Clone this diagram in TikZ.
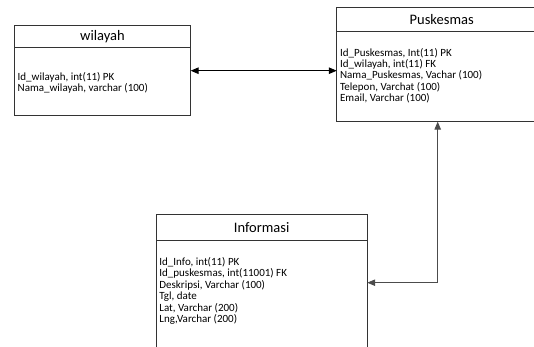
\documentclass[tikz,border=0pt]{standalone}
\usepackage{fontspec}
\setmainfont{Carlito}
\usetikzlibrary{arrows,positioning}

\begin{document}
\begin{tikzpicture}[x=1pt,y=-1pt,>=triangle 45,line width=0.8pt,
    tblhead/.style={draw=black!80,anchor=north west,inner sep=0pt,outer sep=0pt,
        font=\fontsize{14.5}{17}\selectfont},
    tblbody/.style={draw=black!80,inner sep=0pt,outer sep=0pt},
    attrs/.style={anchor=north west,inner sep=0pt,align=left,
        font=\fontsize{11}{11.4}\selectfont}]
  \useasboundingbox (0,0) rectangle (534,347);
  \clip (0,0) rectangle (534,347);
  \coordinate (W) at (14.3,25);
  \coordinate (P) at (336.7,7.3);
  \coordinate (I) at (156,214.3);
  % wilayah
  \node[tblhead,minimum width=176.4pt,minimum height=22.7pt] (wil-head) at (W) {wilayah};
  \node[tblbody,minimum width=176.4pt,minimum height=68pt,below=0pt of wil-head] (wil-body) {};
  \node[attrs,xshift=3pt,yshift=-24pt] (wil-attrs) at (wil-body.north west)
    {Id\_wilayah, int(11) PK\\Nama\_wilayah, varchar (100)};
  % Puskesmas
  \node[tblhead,minimum width=210pt,minimum height=24.4pt] (pus-head) at (P) {Puskesmas};
  \node[tblbody,minimum width=210pt,minimum height=90pt,below=0pt of pus-head] (pus-body) {};
  \node[attrs,xshift=3pt,yshift=-16pt] (pus-attrs) at (pus-body.north west)
    {Id\_Puskesmas, Int(11) PK\\Id\_wilayah, int(11) FK\\Nama\_Puskesmas, Vachar (100)\\
     Telepon, Varchat (100)\\Email, Varchar (100)};
  % Informasi
  \node[tblhead,minimum width=211.3pt,minimum height=25.7pt] (inf-head) at (I) {Informasi};
  \node[tblbody,minimum width=211.3pt,minimum height=130pt,below=0pt of inf-head] (inf-body) {};
  \node[attrs,xshift=3pt,yshift=-17pt] (inf-attrs) at (inf-body.north west)
    {Id\_Info, int(11) PK\\Id\_puskesmas, int(11001) FK\\Deskripsi, Varchar (100)\\
     Tgl, date\\Lat, Varchar (200)\\Lng,Varchar (200)};
  % relasi
  \coordinate (link) at (0,70.7);
  \coordinate (bend) at (437.7,282.7);
  \draw[<->] (wil-body.east |- link) -- (pus-body.west |- link);
  \draw[<->,black!70] (pus-body.south -| bend) |- (inf-body.east |- bend);
\end{tikzpicture}
\end{document}
